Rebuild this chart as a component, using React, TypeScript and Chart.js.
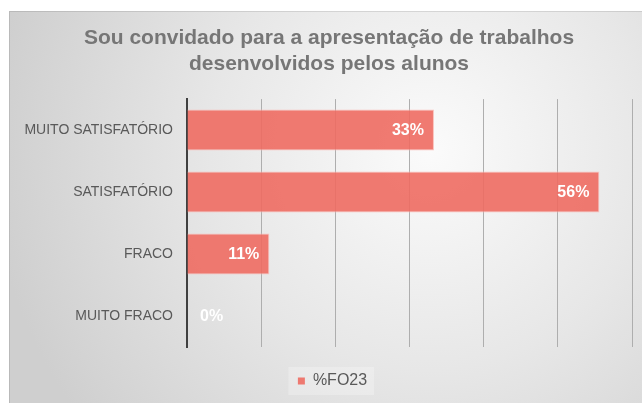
import { useEffect, useRef } from "react";
import { Chart, registerables } from "chart.js";

Chart.register(...registerables);

const titleLines = ["Sou convidado para a apresentação de trabalhos", "desenvolvidos pelos alunos"];
const categories = ["MUITO SATISFATÓRIO", "SATISFATÓRIO", "FRACO", "MUITO FRACO"];
const seriesName = "%FO23";
const values = [0.333, 0.556, 0.111, 0];
const axisMin = 0;
const axisMax = 0.6;
const axisStep = 0.1;

const FONT = "'Liberation Sans', Arial, sans-serif";
const BAR_FILL = "rgba(238,108,98,0.9)";
const BAR_BORDER = "rgba(250,190,184,0.9)";

const fmt = (v: number) => `${Math.round(v * 100)}%`;

const backgroundPlugin = {
  id: "bgPlugin",
  afterLayout(chart: any) {
    if (chart.legend) {
      chart.legend.left += 10.5;
      chart.legend.right += 10.5;
    }
    if (chart.titleBlock) {
      chart.titleBlock.left += 7;
      chart.titleBlock.right += 7;
    }
  },
  beforeDraw(chart: any) {
    const { ctx, width, height } = chart;
    ctx.save();
    ctx.fillStyle = "#ffffff";
    ctx.fillRect(0, 0, width, height);
    const g = ctx.createRadialGradient(430, 150, 0, 430, 150, 440);
    g.addColorStop(0, "#fbfbfb");
    g.addColorStop(0.5, "#e7e7e7");
    g.addColorStop(1, "#cfcfcf");
    ctx.fillStyle = g;
    ctx.fillRect(9, 11, width - 9, height - 11);
    ctx.strokeStyle = "rgba(0,0,0,0.1)";
    ctx.lineWidth = 1;
    ctx.beginPath();
    ctx.moveTo(9.5, height);
    ctx.lineTo(9.5, 11.5);
    ctx.lineTo(width, 11.5);
    ctx.stroke();
    const legend = chart.legend;
    if (legend && legend.legendHitBoxes && legend.legendHitBoxes.length) {
      const hb = legend.legendHitBoxes[0];
      ctx.fillStyle = "rgba(255,255,255,0.25)";
      ctx.fillRect(hb.left - 9.5, hb.top - 6, hb.width + 16.5, 28);
    }
    ctx.restore();
  },
};

const dataLabelPlugin = {
  id: "dataLabels",
  afterDatasetsDraw(chart: any) {
    const ctx = chart.ctx;
    const meta = chart.getDatasetMeta(0);
    ctx.save();
    ctx.font = `bold 16px ${FONT}`;
    ctx.fillStyle = "#ffffff";
    ctx.textBaseline = "middle";
    meta.data.forEach((el: any, i: number) => {
      const { x, y, base } = el.getProps(["x", "y", "base"], true);
      const text = fmt(values[i]);
      const w = ctx.measureText(text).width;
      if (x - base > w + 20) {
        ctx.textAlign = "right";
        ctx.fillText(text, x - 10, y + 1);
      } else {
        ctx.textAlign = "left";
        ctx.fillText(text, base + 13, y + 1);
      }
    });
    ctx.restore();
  },
};

export default function App() {
  const ref = useRef<HTMLCanvasElement | null>(null);

  useEffect(() => {
    if (!ref.current) return;
    const chart = new Chart(ref.current, {
      type: "bar",
      data: {
        labels: categories,
        datasets: [
          {
            label: seriesName,
            data: values,
            backgroundColor: BAR_FILL,
            borderColor: BAR_BORDER,
            borderWidth: 1,
            categoryPercentage: 1,
            barPercentage: 0.66,
          },
        ],
      },
      options: {
        indexAxis: "y",
        responsive: false,
        animation: false,
        layout: { padding: { left: 12, right: 10, top: 0, bottom: 4 } },
        plugins: {
          tooltip: { enabled: false },
          title: {
            display: true,
            text: titleLines,
            color: "#767676",
            font: { family: FONT, size: 21, weight: "bold", lineHeight: 1.24 },
            padding: { top: 25.3, bottom: 21.7 },
          },
          legend: {
            display: true,
            position: "bottom",
            labels: {
              boxWidth: 7,
              boxHeight: 7,
              padding: 8,
              color: "#595959",
              font: { family: FONT, size: 16 },
              generateLabels: (c: any) =>
                Chart.defaults.plugins.legend.labels.generateLabels(c).map((it: any) => ({
                  ...it,
                  fillStyle: "#ee7970",
                  lineWidth: 0,
                  strokeStyle: "rgba(0,0,0,0)",
                })),
            },
          },
        },
        scales: {
          x: {
            type: "linear",
            min: axisMin,
            max: axisMax,
            ticks: { display: false, stepSize: axisStep },
            grid: {
              color: (c: any) => (c.tick && c.tick.value === 0 ? "rgba(0,0,0,0)" : "#aeaeae"),
              lineWidth: 1,
              drawTicks: false,
            },
            border: { display: false },
            afterFit: (s: any) => {
              s.height = 18;
            },
          },
          y: {
            ticks: {
              color: "#595959",
              font: { family: FONT, size: 14 },
              padding: 14,
            },
            grid: { display: false, drawTicks: false },
            border: { display: true, color: "#404040", width: 2 },
            afterFit: (s: any) => {
              s.width = 175;
            },
          },
        },
      },
      plugins: [backgroundPlugin, dataLabelPlugin],
    });
    return () => chart.destroy();
  }, []);

  return (
    <div style={{ position: "fixed", left: 0, top: 0, width: 642, height: 403 }}>
      <canvas ref={ref} width={642} height={403} />
    </div>
  );
}
